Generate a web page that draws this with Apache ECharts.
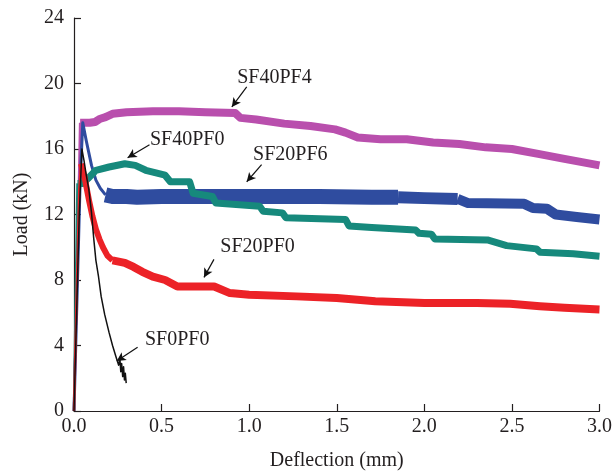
<!DOCTYPE html>
<html>
<head>
<meta charset="utf-8">
<script src="https://cdn.jsdelivr.net/npm/echarts@6/dist/echarts.min.js"></script>
<style>html,body{margin:0;padding:0;background:#fff}#c{width:615px;height:476px}</style>
</head>
<body>
<div id="c"></div>
<script>
// ---- data (Deflection mm, Load kN) ----
const xTicks = [0, 0.5, 1.0, 1.5, 2.0, 2.5, 3.0];
const yTicks = [0, 4, 8, 12, 16, 20, 24];

const SF40PF4_x = [0, 0.012, 0.025, 0.035, 0.06, 0.09, 0.12, 0.15, 0.18, 0.22, 0.3, 0.45, 0.6, 0.75, 0.92, 0.95, 1.04, 1.2, 1.35, 1.49, 1.55, 1.62, 1.75, 1.9, 2.05, 2.2, 2.35, 2.5, 2.65, 2.8, 2.9, 3.0];
const SF40PF4_y = [0, 6, 12, 17.6, 17.6, 17.6, 17.65, 17.85, 17.95, 18.15, 18.25, 18.3, 18.3, 18.25, 18.2, 17.9, 17.8, 17.55, 17.4, 17.2, 17.0, 16.7, 16.6, 16.6, 16.4, 16.3, 16.1, 16.0, 15.7, 15.4, 15.2, 15.0];

const SF20PF6_x = [0, 0.02, 0.035, 0.05, 0.07, 0.1, 0.125, 0.15, 0.18, 0.22, 0.3, 0.36, 0.5, 0.8, 1.1, 1.4, 1.7, 1.85, 2.0, 2.19, 2.25, 2.57, 2.62, 2.7, 2.75, 2.87, 3.0];
const SF20PF6_y = [0, 8, 14, 17.6, 16.5, 15.0, 14.1, 13.6, 13.2, 13.1, 13.1, 13.05, 13.1, 13.1, 13.1, 13.1, 13.05, 13.05, 13.0, 12.95, 12.7, 12.65, 12.4, 12.35, 12.0, 11.85, 11.7];

const SF40PF0_x = [0, 0.01, 0.02, 0.05, 0.08, 0.125, 0.2, 0.29, 0.35, 0.41, 0.52, 0.55, 0.66, 0.68, 0.79, 0.81, 1.06, 1.08, 1.19, 1.21, 1.55, 1.57, 1.7, 1.95, 1.97, 2.04, 2.06, 2.36, 2.47, 2.64, 2.66, 2.85, 3.0];
const SF40PF0_y = [0, 7, 13.9, 13.9, 14.2, 14.7, 14.9, 15.1, 15.0, 14.7, 14.4, 14.0, 14.0, 13.3, 13.1, 12.7, 12.5, 12.2, 12.1, 11.8, 11.7, 11.3, 11.2, 11.05, 10.85, 10.8, 10.5, 10.45, 10.1, 9.9, 9.7, 9.6, 9.45];

const SF20PF0_x = [0, 0.015, 0.03, 0.04, 0.06, 0.085, 0.105, 0.125, 0.145, 0.165, 0.19, 0.22, 0.29, 0.34, 0.39, 0.45, 0.52, 0.59, 0.8, 0.89, 1.0, 1.27, 1.5, 1.72, 2.0, 2.3, 2.49, 2.66, 2.8, 3.0];
const SF20PF0_y = [0, 7, 13.5, 15.1, 14.3, 12.9, 11.9, 11.1, 10.5, 10.0, 9.5, 9.2, 9.05, 8.8, 8.5, 8.2, 8.0, 7.6, 7.6, 7.2, 7.1, 7.0, 6.9, 6.7, 6.6, 6.6, 6.55, 6.4, 6.3, 6.2];

const SF0PF0_x = [0, 0.015, 0.03, 0.045, 0.057, 0.07, 0.085, 0.1, 0.113, 0.125, 0.14, 0.155, 0.175, 0.2, 0.22, 0.24, 0.255, 0.262, 0.267, 0.272, 0.278, 0.283, 0.288, 0.293, 0.298];
const SF0PF0_y = [0, 6, 12, 16.0, 15.3, 14.4, 13.5, 12.1, 10.5, 9.2, 8.2, 7.0, 5.9, 4.8, 4.0, 3.3, 2.8, 3.2, 2.4, 2.9, 2.1, 2.7, 1.9, 2.3, 1.7];

// ---- annotations (label, text position, arrow start, arrow end) in data units ----
const annotations = [
  {text: 'SF40PF4', at: [1.144, 20.34], from: [0.986, 19.79], to: [0.901, 18.57]},
  {text: 'SF40PF0', at: [0.646, 16.57], from: [0.431, 16.26], to: [0.306, 15.47]},
  {text: 'SF20PF6', at: [1.235, 15.65], from: [1.071, 15.04], to: [0.986, 14.0]},
  {text: 'SF20PF0', at: [1.048, 10.05], from: [0.799, 9.26], to: [0.742, 8.16]},
  {text: 'SF0PF0',  at: [0.589, 4.38],  from: [0.363, 3.9],  to: [0.244, 3.05]}
];

// ---- styling ----
const FONT = 'Liberation Serif';
const TXT = '#231f20';
const colors = {SF40PF4: '#b94fad', SF20PF6: '#2f4c9f', SF40PF0: '#16897c', SF20PF0: '#ec2227', SF0PF0: '#111111'};

function pairs(xs, ys, i0, i1) {
  const out = [];
  for (let i = i0; i <= i1; i++) out.push([xs[i], ys[i]]);
  return out;
}
// segments: [startIndex, endIndex, width]
function curve(name, xs, ys, segs, z) {
  return segs.map(s => ({
    type: 'line', name: name, data: pairs(xs, ys, s[0], Math.min(s[1], xs.length - 1)),
    symbol: 'none', showSymbol: false, silent: true, animation: false, z: z,
    lineStyle: {color: colors[name], width: s[2], join: 'round', cap: 'butt'}
  }));
}

const series = [].concat(
  curve('SF40PF4', SF40PF4_x, SF40PF4_y, [[0, 3, 2.5], [3, 99, 8]], 2),
  curve('SF20PF6', SF20PF6_x, SF20PF6_y, [[0, 8, 3], [8, 17, 15], [17, 19, 12], [19, 99, 10]], 3),
  curve('SF40PF0', SF40PF0_x, SF40PF0_y, [[0, 2, 2.5], [2, 99, 7]], 4),
  curve('SF20PF0', SF20PF0_x, SF20PF0_y, [[0, 3, 2.5], [3, 11, 6], [11, 99, 8]], 5),
  curve('SF0PF0', SF0PF0_x, SF0PF0_y, [[0, 99, 1.5]], 6)
);

series.push({
  type: 'line', name: 'annot', data: [], silent: true, animation: false, z: 10,
  markLine: {
    silent: true, animation: false, symbol: ['none', 'arrow'], symbolSize: [7, 9],
    lineStyle: {color: '#111', width: 1.2, type: 'solid'}, label: {show: false},
    data: annotations.map(a => [{coord: a.from}, {coord: a.to}])
  },
  markPoint: {
    silent: true, animation: false, symbol: 'circle', symbolSize: 0,
    label: {show: true, position: 'inside', color: TXT, fontFamily: FONT, fontSize: 20},
    data: annotations.map(a => ({coord: a.at, value: a.text, label: {formatter: a.text}}))
  }
});

const chart = echarts.init(document.getElementById('c'), null, {renderer: 'canvas'});
chart.setOption({
  backgroundColor: '#fff',
  animation: false,
  grid: {left: 74, right: 11, top: 18, bottom: 64, containLabel: false},
  xAxis: {
    type: 'value', min: xTicks[0], max: xTicks[xTicks.length - 1], interval: xTicks[1] - xTicks[0],
    name: 'Deflection (mm)', nameLocation: 'middle', nameGap: 40,
    nameTextStyle: {fontFamily: FONT, fontSize: 20, color: TXT},
    axisLine: {show: true, lineStyle: {color: TXT, width: 1.2}},
    axisTick: {show: true, inside: true, length: 7, lineStyle: {color: TXT, width: 1.2}},
    axisLabel: {fontFamily: FONT, fontSize: 20, color: TXT, margin: 6, formatter: v => v.toFixed(1)},
    splitLine: {show: false}
  },
  yAxis: {
    type: 'value', min: yTicks[0], max: yTicks[yTicks.length - 1], interval: yTicks[1] - yTicks[0],
    name: 'Load (kN)', nameLocation: 'middle', nameGap: 42, nameRotate: 90,
    nameTextStyle: {fontFamily: FONT, fontSize: 20, color: TXT},
    axisLine: {show: true, lineStyle: {color: TXT, width: 1.2}},
    axisTick: {show: true, inside: true, length: 7, lineStyle: {color: TXT, width: 1.2}},
    axisLabel: {fontFamily: FONT, fontSize: 20, color: TXT, margin: 10},
    splitLine: {show: false}
  },
  series: series
});
</script>
</body>
</html>
